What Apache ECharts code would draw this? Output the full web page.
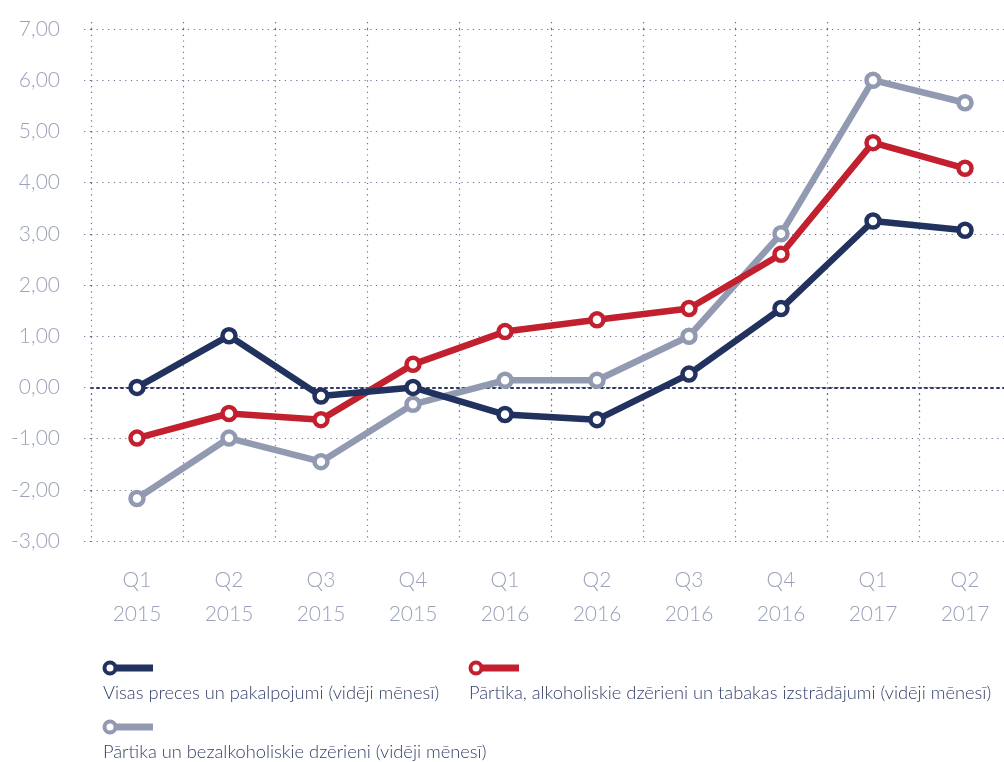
<!DOCTYPE html>
<html>
<head>
<meta charset="utf-8">
<script src="https://cdn.jsdelivr.net/npm/echarts@6/dist/echarts.min.js"></script>
<style>
  html, body { margin: 0; padding: 0; background: #fff; overflow: hidden; }
  /* a bit wider than the window: last band runs past the right edge */
  #chart { width: 1012px; height: 762px; }
</style>
</head>
<body>
<div id="chart"></div>
<script>
// ceturkšņi
const quarters = ['Q1\n2015', 'Q2\n2015', 'Q3\n2015', 'Q4\n2015', 'Q1\n2016', 'Q2\n2016', 'Q3\n2016', 'Q4\n2016', 'Q1\n2017', 'Q2\n2017']

const seriesNames = [
    'Visas preces un pakalpojumi (vidēji mēnesī)',
    'Pārtika, alkoholiskie dzērieni un tabakas izstrādājumi (vidēji mēnesī)',
    'Pārtika un bezalkoholiskie dzērieni (vidēji mēnesī)'
]
const seriesColors = ['#22325f', '#c3202f', '#929ab2']

const allGoods = [0.0, 1.01, -0.17, 0.0, -0.53, -0.63, 0.26, 1.54, 3.25, 3.07]
const foodAlcohol = [-0.99, -0.51, -0.63, 0.45, 1.09, 1.32, 1.54, 2.6, 4.78, 4.28]
const foodSoft = [-2.17, -0.99, -1.45, -0.33, 0.14, 0.14, 1.0, 3.0, 6.0, 5.56]

const yMin = -3
const yMax = 7

const font = 'Lato, "Open Sans", sans-serif'
const gridDots = { color: '#6a7092', width: 1.2, type: [1.2, 4.5] }

const chart = echarts.init(document.getElementById('chart'))

const makeLine = (idx, data, z) => ({
    name: seriesNames[idx],
    type: 'line',
    data: data,
    z: z,
    symbol: 'circle',
    symbolSize: 13,
    showSymbol: true,
    lineStyle: { color: seriesColors[idx], width: 6.5 },
    itemStyle: { color: '#fff', borderColor: seriesColors[idx], borderWidth: 4.5 },
    emphasis: { disabled: true }
})

// leģenda: aplis + josla, teksts zem tās
const legendSpots = [[110, 668], [476, 668], [110, 727]]
const legendGraphics = []
seriesNames.forEach((name, i) => {
    const [cx, cy] = legendSpots[i]
    legendGraphics.push({
        type: 'rect', shape: { x: cx, y: cy - 3.5, width: 43, height: 7 },
        style: { fill: seriesColors[i] }
    })
    legendGraphics.push({
        type: 'circle', shape: { cx: cx, cy: cy, r: 5.5 },
        style: { fill: '#fff', stroke: seriesColors[i], lineWidth: 4 }
    })
    legendGraphics.push({
        type: 'text', x: cx - 7, y: cy + 25,
        style: {
            text: name, fill: '#34406a', font: '300 18.3px ' + font,
            textVerticalAlign: 'middle'
        }
    })
})

const option = {
    animation: false,
    grid: { left: 91, top: 29, width: 920, height: 512 },
    xAxis: [{
        type: 'category',
        data: quarters,
        boundaryGap: true,
        axisLine: { onZero: true, lineStyle: { color: '#2d3766', width: 2, type: [2, 4] } },
        axisTick: { show: true, length: 26, lineStyle: gridDots },
        axisLabel: {
            margin: 22, color: '#9ba2b9', fontSize: 21, lineHeight: 34,
            fontFamily: font, fontWeight: 300
        },
        splitLine: { show: true, lineStyle: gridDots }
    }, {
        type: 'category',
        data: quarters,
        position: 'top',
        boundaryGap: true,
        axisLine: { show: false },
        axisTick: { show: true, length: 8, lineStyle: gridDots },
        axisLabel: { show: false },
        splitLine: { show: false }
    }],
    yAxis: {
        type: 'value',
        min: yMin,
        max: yMax,
        interval: 1,
        axisLine: { show: false },
        axisTick: { show: true, length: 9, lineStyle: gridDots },
        axisLabel: {
            margin: 31, color: '#9ba2b9', fontSize: 21,
            fontFamily: font, fontWeight: 300,
            formatter: v => v.toFixed(2).replace('.', ',')
        },
        splitLine: { show: true, lineStyle: gridDots }
    },
    series: [
        makeLine(2, foodSoft, 2),
        makeLine(1, foodAlcohol, 3),
        makeLine(0, allGoods, 4)
    ],
    graphic: legendGraphics
}

chart.setOption(option)
</script>
</body>
</html>
